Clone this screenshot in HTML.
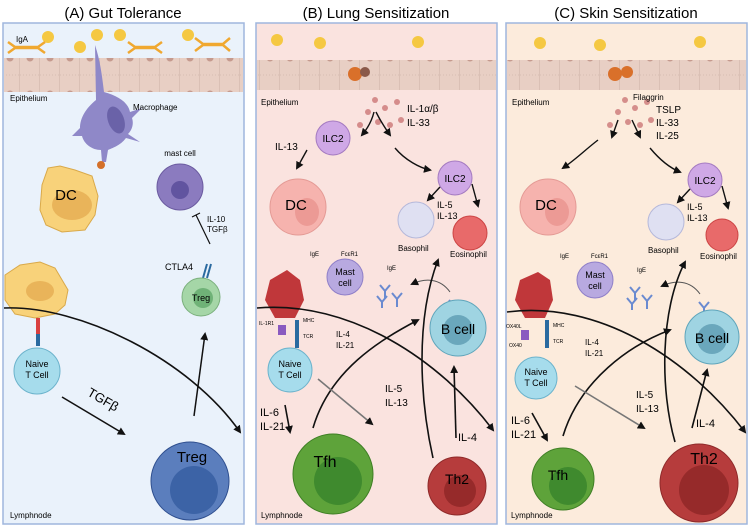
<!DOCTYPE html>
<html><head><meta charset="utf-8"><style>
html,body{margin:0;padding:0;background:#fff}
svg{display:block;font-family:"Liberation Sans",sans-serif}
</style></head><body>
<svg width="750" height="528" viewBox="0 0 750 528" xmlns="http://www.w3.org/2000/svg">
<defs>
<marker id="ah" markerWidth="8" markerHeight="8" refX="6" refY="4" orient="auto" markerUnits="userSpaceOnUse"><path d="M0,0 L8,4 L0,8 z" fill="#111"/></marker>
<pattern id="epi" width="20" height="36" patternUnits="userSpaceOnUse"><rect width="20" height="36" fill="#e8cfc4"/><line x1="20" y1="0" x2="20" y2="36" stroke="#cdb1a6"/><circle cx="10" cy="22" r="3.5" fill="#c59a8e"/><line x1="0" y1="3" x2="20" y2="3" stroke="#d6bdb2" stroke-dasharray="1,2"/></pattern>
</defs>
<text x="123" y="18" font-size="15" text-anchor="middle">(A) Gut Tolerance</text>
<text x="376" y="18" font-size="15" text-anchor="middle">(B) Lung Sensitization</text>
<text x="626" y="18" font-size="15" text-anchor="middle">(C) Skin Sensitization</text>
<rect x="3" y="23" width="241" height="501" fill="#eaf2fb" stroke="#9fb6dd" stroke-width="1.5"/>
<rect x="256" y="23" width="241" height="501" fill="#fae3df" stroke="#9fb6dd" stroke-width="1.5"/>
<rect x="506" y="23" width="241" height="501" fill="#fcebdc" stroke="#9fb6dd" stroke-width="1.5"/>
<rect x="4" y="58" width="239" height="34" fill="url(#epi)"/>
<rect x="257" y="60" width="239" height="30" fill="url(#epi)"/>
<rect x="507" y="60" width="239" height="30" fill="url(#epi)"/>
<text x="10" y="101" font-size="8">Epithelium</text>
<text x="261" y="105" font-size="8">Epithelium</text>
<text x="512" y="105" font-size="8">Epithelium</text>
<text x="10" y="518" font-size="8">Lymphnode</text>
<text x="261" y="518" font-size="8">Lymphnode</text>
<text x="511" y="518" font-size="8">Lymphnode</text>
<g fill="#f5c842">
<circle cx="48" cy="37" r="6"/><circle cx="80" cy="47" r="6"/><circle cx="97" cy="35" r="6"/><circle cx="120" cy="35" r="6"/><circle cx="188" cy="35" r="6"/>
<circle cx="277" cy="40" r="6"/><circle cx="320" cy="43" r="6"/><circle cx="418" cy="42" r="6"/>
<circle cx="540" cy="43" r="6"/><circle cx="600" cy="45" r="6"/><circle cx="700" cy="42" r="6"/>
</g>
<g stroke="#f0a830" stroke-width="2.5" fill="none">
<path d="M8,42 L15,47 L38,47 L45,42 M8,53 L15,48 L38,48 L45,53"/>
<path d="M128,42 L135,47 L155,47 L162,42 M128,53 L135,48 L155,48 L162,53"/>
<path d="M195,38 L203,44 L223,44 L230,38 M195,51 L203,45 L223,45 L230,51"/>
</g>
<text x="16" y="42" font-size="8">IgA</text>
<!-- macrophage -->
<path d="M95,45 C100,60 102,75 104,92 C118,96 128,102 130,112 L142,108 L132,118 C134,124 132,130 128,134 L140,142 L126,138 C120,146 112,148 108,150 L106,162 L102,162 L101,150 C92,150 84,144 82,136 L72,136 L80,128 C80,118 86,108 96,100 Z" fill="#8f88c8"/>
<ellipse cx="116" cy="120" rx="8" ry="14" fill="#6a62a8" transform="rotate(-20 116 120)"/>
<text x="133" y="110" font-size="8">Macrophage</text>
<circle cx="101" cy="165" r="4" fill="#d4702a"/>
<path d="M48,168 L60,166 L75,170 L92,176 L98,196 L95,215 L85,230 L62,232 L46,225 L40,210 L42,185 Z" fill="#f8d27a" stroke="#d9a94a"/>
<ellipse cx="72" cy="205" rx="20" ry="15" fill="#e9b45a"/>
<text x="66" y="200" font-size="15" text-anchor="middle">DC</text>
<circle cx="180" cy="187" r="23" fill="#8b7bbf" stroke="#6b5ba0"/>
<circle cx="180" cy="190" r="9" fill="#6154a0"/>
<text x="180" y="156" font-size="8" text-anchor="middle">mast cell</text>
<line x1="210" y1="244" x2="196" y2="215" stroke="#111" stroke-width="1.2"/>
<line x1="192" y1="217" x2="200" y2="213" stroke="#111" stroke-width="1.2"/>
<text x="207" y="222" font-size="8">IL-10</text><text x="207" y="232" font-size="8">TGFβ</text>
<text x="165" y="270" font-size="9">CTLA4</text>
<line x1="207" y1="264" x2="203" y2="278" stroke="#2a6aa0" stroke-width="2"/>
<line x1="211" y1="264" x2="207" y2="278" stroke="#2a6aa0" stroke-width="2"/>
<circle cx="201" cy="297" r="19" fill="#a5d6a7" stroke="#7bb07d"/>
<circle cx="203" cy="298" r="10" fill="#6fb277"/>
<text x="201" y="301" font-size="9" text-anchor="middle">Treg</text>
<line x1="194" y1="416" x2="205" y2="334" stroke="#111" stroke-width="1.5" marker-end="url(#ah)"/>
<path d="M5,275 L20,265 L40,262 L55,268 L68,290 L65,305 L55,314 L35,318 L15,314 L5,300 Z" fill="#f8d27a" stroke="#d9a94a"/>
<ellipse cx="40" cy="291" rx="14" ry="10" fill="#e9b45a"/>
<rect x="36" y="318" width="4" height="16" fill="#d94040"/><rect x="36" y="334" width="4" height="12" fill="#2a6aa0"/>
<circle cx="37" cy="371" r="23" fill="#a6dcec" stroke="#6cb3cc"/>
<text x="37" y="367" font-size="9" text-anchor="middle">Naive</text><text x="37" y="378" font-size="9" text-anchor="middle">T Cell</text>
<path d="M4,308 C80,305 190,360 240,432" stroke="#111" stroke-width="1.6" fill="none" marker-end="url(#ah)"/>
<line x1="62" y1="397" x2="124" y2="434" stroke="#111" stroke-width="1.6" marker-end="url(#ah)"/>
<text x="85" y="400" font-size="13" transform="rotate(30 95 400)">TGFβ</text>
<circle cx="190" cy="481" r="39" fill="#5b7ebd" stroke="#2f4f8f"/>
<circle cx="194" cy="490" r="24" fill="#3c63a6"/>
<text x="192" y="462" font-size="15" text-anchor="middle">Treg</text>

<g fill="#c77" opacity=".8"><circle cx="375" cy="100" r="3"/><circle cx="385" cy="108" r="3"/><circle cx="368" cy="112" r="3"/><circle cx="378" cy="122" r="3"/><circle cx="390" cy="125" r="3"/><circle cx="360" cy="125" r="3"/><circle cx="397" cy="102" r="3"/><circle cx="401" cy="120" r="3"/></g>
<circle cx="355" cy="74" r="7" fill="#d9702a"/><circle cx="365" cy="72" r="5" fill="#8a5a4a"/>
<text x="407" y="112" font-size="10">IL-1α/β</text><text x="407" y="126" font-size="10">IL-33</text>
<path d="M374,112 C372,120 368,128 362,135" stroke="#111" stroke-width="1.4" fill="none" marker-end="url(#ah)"/>
<path d="M376,112 C380,120 385,128 390,135" stroke="#111" stroke-width="1.4" fill="none" marker-end="url(#ah)"/>
<path d="M395,148 C405,160 420,168 430,170" stroke="#111" stroke-width="1.4" fill="none" marker-end="url(#ah)"/>
<circle cx="333" cy="138" r="17" fill="#cfa8e6" stroke="#a47ac0"/><text x="333" y="142" font-size="10" text-anchor="middle">ILC2</text>
<text x="275" y="150" font-size="10">IL-13</text>
<line x1="307" y1="150" x2="297" y2="168" stroke="#111" stroke-width="1.4" marker-end="url(#ah)"/>
<circle cx="298" cy="207" r="28" fill="#f6b3ae" stroke="#e49a95"/><ellipse cx="307" cy="212" rx="12" ry="14" fill="#ec9a95"/>
<text x="296" y="210" font-size="15" text-anchor="middle">DC</text>
<circle cx="455" cy="178" r="17" fill="#cfa8e6" stroke="#a47ac0"/><text x="455" y="182" font-size="10" text-anchor="middle">ILC2</text>
<line x1="440" y1="187" x2="428" y2="200" stroke="#111" stroke-width="1.4" marker-end="url(#ah)"/>
<line x1="472" y1="184" x2="478" y2="206" stroke="#111" stroke-width="1.4" marker-end="url(#ah)"/>
<text x="437" y="208" font-size="9">IL-5</text><text x="437" y="219" font-size="9">IL-13</text>
<circle cx="416" cy="220" r="18" fill="#dfe0f2" stroke="#b5b8da"/>
<text x="398" y="251" font-size="8">Basophil</text>
<circle cx="470" cy="233" r="17" fill="#e86a6a" stroke="#c44"/>
<text x="450" y="257" font-size="8">Eosinophil</text>
<circle cx="345" cy="277" r="18" fill="#b8a9e0" stroke="#8f7fc8"/>
<text x="345" y="275" font-size="9" text-anchor="middle">Mast</text><text x="345" y="286" font-size="9" text-anchor="middle">cell</text>
<text x="310" y="256" font-size="6">IgE</text><text x="341" y="256" font-size="6">FcεR1</text>
<text x="387" y="270" font-size="6">IgE</text>
<g stroke="#6a8ad0" stroke-width="2" fill="none"><path d="M380,285 l5,6 l5,-6 M385,291 v8"/><path d="M392,293 l5,6 l5,-6 M397,299 v8"/><path d="M377,296 l5,6 l5,-6 M382,302 v6"/><path d="M449,300 l5,6 l5,-6 M454,306 v6"/></g>
<path d="M450,292 C440,278 425,278 412,284" stroke="#555" stroke-width="1" fill="none" marker-end="url(#ah)"/>
<circle cx="458" cy="328" r="28" fill="#9fd4e2" stroke="#5fa5bb"/><circle cx="458" cy="330" r="15" fill="#6aa7bc"/>
<text x="458" y="334" font-size="14" text-anchor="middle">B cell</text>
<path d="M287,270 L300,280 L304,300 L295,318 L275,318 L265,300 L270,280 Z" fill="#c0373a"/>
<rect x="295" y="320" width="4" height="28" fill="#2a6aa0"/><rect x="278" y="325" width="8" height="10" fill="#8a5ac0"/>
<text x="259" y="325" font-size="5">IL-1R1</text><text x="303" y="322" font-size="5">MHC</text><text x="303" y="338" font-size="5">TCR</text>
<circle cx="290" cy="370" r="22" fill="#a6dcec" stroke="#6cb3cc"/>
<text x="290" y="367" font-size="9" text-anchor="middle">Naive</text><text x="290" y="378" font-size="9" text-anchor="middle">T Cell</text>
<text x="336" y="337" font-size="8">IL-4</text><text x="336" y="348" font-size="8">IL-21</text>
<path d="M257,308 C350,300 440,360 493,430" stroke="#111" stroke-width="1.6" fill="none" marker-end="url(#ah)"/>
<path d="M313,428 C330,370 380,340 418,320" stroke="#111" stroke-width="1.6" fill="none" marker-end="url(#ah)"/>
<path d="M433,458 C420,400 415,320 438,260" stroke="#111" stroke-width="1.6" fill="none" marker-end="url(#ah)"/>
<line x1="456" y1="438" x2="454" y2="367" stroke="#111" stroke-width="1.6" marker-end="url(#ah)"/>
<line x1="318" y1="379" x2="372" y2="424" stroke="#777" stroke-width="1.6" marker-end="url(#ah)"/>
<line x1="285" y1="405" x2="290" y2="432" stroke="#111" stroke-width="1.6" marker-end="url(#ah)"/>
<text x="260" y="416" font-size="11">IL-6</text><text x="260" y="430" font-size="11">IL-21</text>
<text x="385" y="392" font-size="10">IL-5</text><text x="385" y="406" font-size="10">IL-13</text>
<text x="458" y="441" font-size="11">IL-4</text>
<circle cx="333" cy="474" r="40" fill="#5ea33a" stroke="#3f7f25"/><circle cx="338" cy="481" r="24" fill="#3f8a2e"/>
<text x="325" y="467" font-size="16" text-anchor="middle">Tfh</text>
<circle cx="457" cy="486" r="29" fill="#b63c3c" stroke="#8f2a2a"/><circle cx="460" cy="491" r="16" fill="#962a2a"/>
<text x="457" y="484" font-size="14" text-anchor="middle">Th2</text>

<g fill="#c77" opacity=".8"><circle cx="625" cy="100" r="3"/><circle cx="635" cy="108" r="3"/><circle cx="618" cy="112" r="3"/><circle cx="628" cy="122" r="3"/><circle cx="640" cy="125" r="3"/><circle cx="610" cy="125" r="3"/><circle cx="647" cy="102" r="3"/><circle cx="651" cy="120" r="3"/></g>
<circle cx="615" cy="74" r="7" fill="#d9702a"/><circle cx="627" cy="72" r="6" fill="#d9702a"/>
<text x="633" y="100" font-size="8">Filaggrin</text>
<text x="656" y="113" font-size="10">TSLP</text><text x="656" y="126" font-size="10">IL-33</text><text x="656" y="139" font-size="10">IL-25</text>
<line x1="618" y1="120" x2="612" y2="137" stroke="#111" stroke-width="1.4" marker-end="url(#ah)"/>
<line x1="632" y1="120" x2="640" y2="137" stroke="#111" stroke-width="1.4" marker-end="url(#ah)"/>
<path d="M598,140 C585,150 575,160 563,168" stroke="#111" stroke-width="1.4" fill="none" marker-end="url(#ah)"/>
<path d="M650,148 C660,160 670,168 680,172" stroke="#111" stroke-width="1.4" fill="none" marker-end="url(#ah)"/>
<circle cx="548" cy="207" r="28" fill="#f6b3ae" stroke="#e49a95"/><ellipse cx="557" cy="212" rx="12" ry="14" fill="#ec9a95"/>
<text x="546" y="210" font-size="15" text-anchor="middle">DC</text>
<circle cx="705" cy="180" r="17" fill="#cfa8e6" stroke="#a47ac0"/><text x="705" y="184" font-size="10" text-anchor="middle">ILC2</text>
<line x1="690" y1="189" x2="678" y2="202" stroke="#111" stroke-width="1.4" marker-end="url(#ah)"/>
<line x1="722" y1="186" x2="728" y2="208" stroke="#111" stroke-width="1.4" marker-end="url(#ah)"/>
<text x="687" y="210" font-size="9">IL-5</text><text x="687" y="221" font-size="9">IL-13</text>
<circle cx="666" cy="222" r="18" fill="#dfe0f2" stroke="#b5b8da"/>
<text x="648" y="253" font-size="8">Basophil</text>
<circle cx="722" cy="235" r="16" fill="#e86a6a" stroke="#c44"/>
<text x="700" y="259" font-size="8">Eosinophil</text>
<circle cx="595" cy="280" r="18" fill="#b8a9e0" stroke="#8f7fc8"/>
<text x="595" y="278" font-size="9" text-anchor="middle">Mast</text><text x="595" y="289" font-size="9" text-anchor="middle">cell</text>
<text x="560" y="258" font-size="6">IgE</text><text x="591" y="258" font-size="6">FcεR1</text>
<text x="637" y="272" font-size="6">IgE</text>
<g stroke="#6a8ad0" stroke-width="2" fill="none"><path d="M630,287 l5,6 l5,-6 M635,293 v8"/><path d="M642,295 l5,6 l5,-6 M647,301 v8"/><path d="M627,298 l5,6 l5,-6 M632,304 v6"/><path d="M699,302 l5,6 l5,-6 M704,308 v6"/></g>
<path d="M700,294 C690,280 675,280 662,286" stroke="#555" stroke-width="1" fill="none" marker-end="url(#ah)"/>
<circle cx="712" cy="337" r="27" fill="#9fd4e2" stroke="#5fa5bb"/><circle cx="712" cy="339" r="15" fill="#6aa7bc"/>
<text x="712" y="343" font-size="14" text-anchor="middle">B cell</text>
<path d="M538,272 L550,280 L553,300 L545,318 L525,318 L515,300 L520,280 Z" fill="#c0373a"/>
<rect x="545" y="320" width="4" height="28" fill="#2a6aa0"/><rect x="521" y="330" width="8" height="10" fill="#8a5ac0"/>
<text x="506" y="328" font-size="5">OX40L</text><text x="553" y="327" font-size="5">MHC</text><text x="553" y="343" font-size="5">TCR</text><text x="509" y="347" font-size="5">OX40</text>
<circle cx="536" cy="378" r="21" fill="#a6dcec" stroke="#6cb3cc"/>
<text x="536" y="375" font-size="9" text-anchor="middle">Naive</text><text x="536" y="386" font-size="9" text-anchor="middle">T Cell</text>
<text x="585" y="345" font-size="8">IL-4</text><text x="585" y="356" font-size="8">IL-21</text>
<path d="M507,312 C600,300 690,360 745,432" stroke="#111" stroke-width="1.6" fill="none" marker-end="url(#ah)"/>
<path d="M563,436 C580,380 630,345 670,330" stroke="#111" stroke-width="1.6" fill="none" marker-end="url(#ah)"/>
<path d="M675,442 C660,390 660,310 685,262" stroke="#111" stroke-width="1.6" fill="none" marker-end="url(#ah)"/>
<line x1="692" y1="428" x2="707" y2="370" stroke="#111" stroke-width="1.6" marker-end="url(#ah)"/>
<line x1="575" y1="386" x2="644" y2="428" stroke="#777" stroke-width="1.6" marker-end="url(#ah)"/>
<line x1="532" y1="413" x2="547" y2="440" stroke="#111" stroke-width="1.6" marker-end="url(#ah)"/>
<text x="511" y="424" font-size="11">IL-6</text><text x="511" y="438" font-size="11">IL-21</text>
<text x="636" y="398" font-size="10">IL-5</text><text x="636" y="412" font-size="10">IL-13</text>
<text x="696" y="427" font-size="11">IL-4</text>
<circle cx="563" cy="479" r="31" fill="#5ea33a" stroke="#3f7f25"/><circle cx="568" cy="486" r="19" fill="#3f8a2e"/>
<text x="558" y="480" font-size="14" text-anchor="middle">Tfh</text>
<circle cx="699" cy="483" r="39" fill="#b63c3c" stroke="#8f2a2a"/><circle cx="704" cy="490" r="25" fill="#962a2a"/>
<text x="704" y="464" font-size="16" text-anchor="middle">Th2</text>
</svg>
</body></html>
